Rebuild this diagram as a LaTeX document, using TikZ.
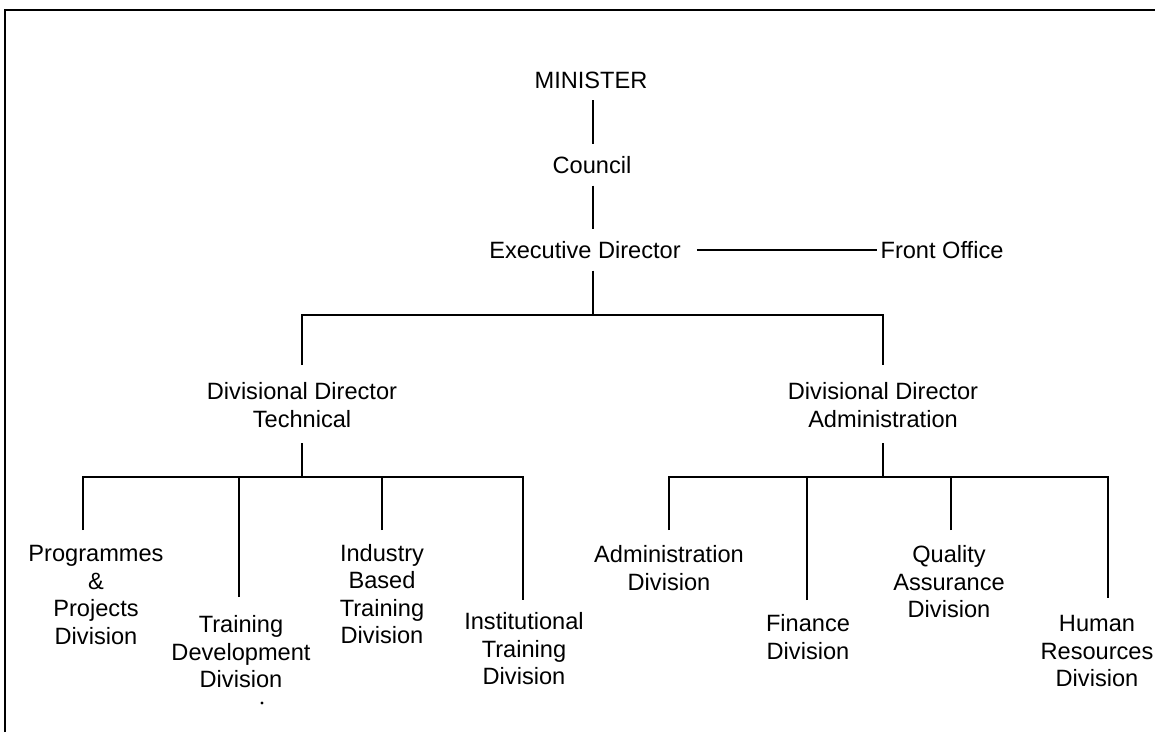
\documentclass[tikz,border=0pt]{standalone}
\usepackage{fontspec}
\setmainfont{Liberation Sans}
\begin{document}
\begin{tikzpicture}[x=1pt,y=-1pt,
  lbl/.style={font=\fontsize{23.6}{27.5}\selectfont, align=center, inner sep=0pt, outer sep=0pt},
  wire/.style={line width=1.5pt, line join=miter}]
\useasboundingbox (0,0) rectangle (1155,732);

% page frame (top and left edges)
\draw[wire] (5,732) -- (5,10) -- (1155,10);

% top of the hierarchy
\node[lbl] (mn) at (591,80)  {MINISTER};
\node[lbl] (cn) at (592,165) {Council};
\node[lbl] (en) at (585,250) {Executive Director};
\node[lbl] (fo) at (942,250) {Front Office};

% divisional directors
\node[lbl] (dt) at (302,405) {Divisional Director\\Technical};
\node[lbl] (da) at (883,405) {Divisional Director\\Administration};

% technical divisions
\node[lbl] (p1) at (96,595)  {Programmes\\\&\\Projects\\Division};
\node[lbl] (p2) at (241,652) {Training\\Development\\Division};
\node[lbl] (p3) at (382,594) {Industry\\Based\\Training\\Division};
\node[lbl] (p4) at (524,649) {Institutional\\Training\\Division};

% administration divisions
\node[lbl] (a1) at (669,568)  {Administration\\Division};
\node[lbl] (a2) at (808,637)  {Finance\\Division};
\node[lbl] (a3) at (949,582)  {Quality\\Assurance\\Division};
\node[lbl] (a4) at (1097,651) {Human\\Resources\\Division};

\node[circle, fill, inner sep=1.1pt] (dot) at (262,703) {};

% junctions
\coordinate (j0) at (593,315);
\coordinate (jl) at (302,477);
\coordinate (jr) at (883,477);
\coordinate (l1) at (83,530);
\coordinate (l2) at (239,597);
\coordinate (l3) at (382,530);
\coordinate (l4) at (523,600);
\coordinate (r1) at (669,530);
\coordinate (r2) at (807,600);
\coordinate (r3) at (951,530);
\coordinate (r4) at (1108,598);

% main spine
\draw[wire, shorten <=12pt, shorten >=12pt] (mn.south -| j0) -- (cn.north -| j0);
\draw[wire, shorten <=12pt, shorten >=12pt] (cn.south -| j0) -- (en.north -| j0);
\draw[wire, shorten <=16pt, shorten >=4pt] (en.east) -- (fo.west);
\draw[wire, shorten <=12pt] (en.south -| j0) -- (j0);
\draw[wire, shorten <=17.5pt, shorten >=17.5pt]
  (dt.north) -- (dt.north |- j0) -- (da.north |- j0) -- (da.north);

% technical branch
\draw[wire, shorten <=16pt] (dt.south) -- (jl);
\draw[wire] (l1) -- (l1 |- jl) -- (l4 |- jl) -- (l4);
\draw[wire] (l2) -- (l2 |- jl);
\draw[wire] (l3) -- (l3 |- jl);

% administration branch
\draw[wire, shorten <=16pt] (da.south) -- (jr);
\draw[wire] (r1) -- (r1 |- jr) -- (r4 |- jr) -- (r4);
\draw[wire] (r2) -- (r2 |- jr);
\draw[wire] (r3) -- (r3 |- jr);
\end{tikzpicture}
\end{document}
